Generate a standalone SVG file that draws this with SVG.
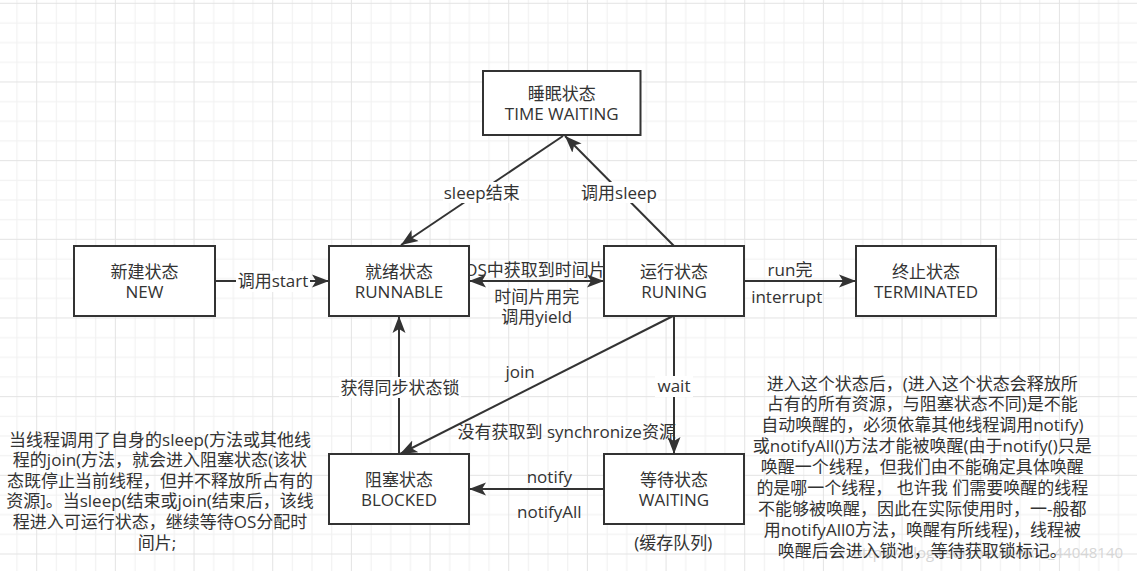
<svg xmlns="http://www.w3.org/2000/svg" width="1137" height="571" viewBox="0 0 1137 571">
<style>
text{font-family:"Open Sans","Noto Sans","Noto Sans CJK SC",sans-serif;font-size:17px;fill:#333;text-anchor:middle}
.box{fill:#fff;stroke:#333;stroke-width:2}
.edge{fill:none;stroke:#333;stroke-width:2}
.lbg{fill:#fff}
.wm{fill:#d6d6d6;font-size:15px}
</style>
<defs>
<pattern id="grid" x="36.2" y="2.8" width="78.67" height="78.67" patternUnits="userSpaceOnUse">
<rect x="19.67" y="0" width="1" height="78.67" fill="#f0f0f0"/>
<rect x="39.33" y="0" width="1" height="78.67" fill="#f0f0f0"/>
<rect x="59" y="0" width="1" height="78.67" fill="#f0f0f0"/>
<rect x="0" y="19.67" width="78.67" height="1" fill="#f0f0f0"/>
<rect x="0" y="39.33" width="78.67" height="1" fill="#f0f0f0"/>
<rect x="0" y="59" width="78.67" height="1" fill="#f0f0f0"/>
<rect x="0" y="0" width="1" height="78.67" fill="#e3e3e3"/>
<rect x="0" y="0" width="78.67" height="1" fill="#e3e3e3"/>
</pattern>
<marker id="arr" markerUnits="userSpaceOnUse" markerWidth="20" markerHeight="14" refX="17" refY="7" orient="auto-start-reverse">
<path d="M0,0.5 L17,7 L0,13.5 L4,7 Z" fill="#333"/>
</marker>
</defs>
<rect x="0" y="0" width="1137" height="571" fill="#fff"/>
<rect x="0" y="0" width="1137" height="571" fill="url(#grid)"/>

<g id="connectors">
<path class="edge" d="M215,281 H329" marker-end="url(#arr)"/>
<path class="edge" d="M563,136 L401,245" marker-end="url(#arr)"/>
<path class="edge" d="M674,246 L565,136" marker-end="url(#arr)"/>
<path class="edge" d="M469,281 H604" marker-start="url(#arr)" marker-end="url(#arr)"/>
<path class="edge" d="M744,281 H856" marker-end="url(#arr)"/>
<path class="edge" d="M673,316 L400,454" marker-end="url(#arr)"/>
<path class="edge" d="M674,316 V454" marker-end="url(#arr)"/>
<path class="edge" d="M399,454 V316" marker-end="url(#arr)"/>
<path class="edge" d="M604,489 H469" marker-end="url(#arr)"/>

<rect class="lbg" x="236" y="271" width="74" height="21"/>
<text x="273" y="287">调用start</text>
<rect class="lbg" x="443" y="182" width="78" height="21"/>
<text x="481.7" y="199">sleep结束</text>
<rect class="lbg" x="580" y="182" width="78" height="21"/>
<text x="619" y="199">调用sleep</text>
<text x="535" y="275.5">OS中获取到时间片</text>
<text x="536.7" y="303">时间片用完</text>
<text x="536.7" y="323">调用yield</text>
<text x="790" y="275.5">run完</text>
<text x="786.7" y="303">interrupt</text>
<text x="520" y="378">join</text>
<text x="566.7" y="438">没有获取到 synchronize资源</text>
<rect class="lbg" x="655" y="376" width="38" height="21"/>
<text x="674" y="391.5">wait</text>
<rect class="lbg" x="339" y="377" width="122" height="21"/>
<text x="400" y="394">获得同步状态锁</text>
<text x="549.3" y="483">notify</text>
<text x="549.3" y="517.5">notifyAll</text>
</g>

<g id="time-waiting">
<rect class="box" x="483" y="71" width="157.5" height="64"/>
<text x="561.7" y="99.5">睡眠状态</text>
<text x="561.7" y="119.5">TIME WAITING</text>
</g>
<g id="new">
<rect class="box" x="74" y="246" width="141" height="70"/>
<text x="144.5" y="278">新建状态</text>
<text x="144.5" y="298">NEW</text>
</g>
<g id="runnable">
<rect class="box" x="329" y="246" width="140" height="70"/>
<text x="399" y="278">就绪状态</text>
<text x="399" y="298">RUNNABLE</text>
</g>
<g id="running">
<rect class="box" x="604" y="246" width="140" height="70"/>
<text x="674" y="278">运行状态</text>
<text x="674" y="298">RUNING</text>
</g>
<g id="terminated">
<rect class="box" x="856" y="246" width="140" height="70"/>
<text x="926" y="278">终止状态</text>
<text x="926" y="298">TERMINATED</text>
</g>
<g id="blocked">
<rect class="box" x="329" y="454" width="140" height="70"/>
<text x="399" y="485.5">阻塞状态</text>
<text x="399" y="506">BLOCKED</text>
</g>
<g id="waiting">
<rect class="box" x="604" y="454" width="140" height="70"/>
<text x="674" y="485.5">等待状态</text>
<text x="674" y="506">WAITING</text>
<text x="673.3" y="549">(缓存队列)</text>
</g>

<g id="note-blocked">
<text x="160" y="445.5">当线程调用了自身的sleep(方法或其他线</text>
<text x="160" y="466">程的join(方法，就会进入阻塞状态(该状</text>
<text x="160" y="486.7">态既停止当前线程，但并不释放所占有的</text>
<text x="160" y="507.3">资源]。当sleep(结束或join(结束后，该线</text>
<text x="160" y="528">程进入可运行状态，继续等待OS分配时</text>
<text x="157" y="548.7">间片;</text>
</g>

<g id="note-waiting">
<text class="wm" x="988" y="558">https://blog.csdn.net/weixin_44048140</text>
<text x="922.3" y="389.5">进入这个状态后，(进入这个状态会释放所</text>
<text x="922.3" y="410.4">占有的所有资源，与阻塞状态不同)是不能</text>
<text x="922.3" y="431.3">自动唤醒的，必须依靠其他线程调用notify)</text>
<text x="922.3" y="452.2">或notifyAll()方法才能被唤醒(由于notify()只是</text>
<text x="922.3" y="473.1">唤醒一个线程，但我们由不能确定具体唤醒</text>
<text x="922.3" y="494">的是哪一个线程， 也许我 们需要唤醒的线程</text>
<text x="922.3" y="514.9">不能够被唤醒，因此在实际使用时，一-般都</text>
<text x="922.3" y="535.8">用notifyAll0方法，唤醒有所线程)，线程被</text>
<text x="922.3" y="556.7">唤醒后会进入锁池，等待获取锁标记。</text>
</g>
</svg>
